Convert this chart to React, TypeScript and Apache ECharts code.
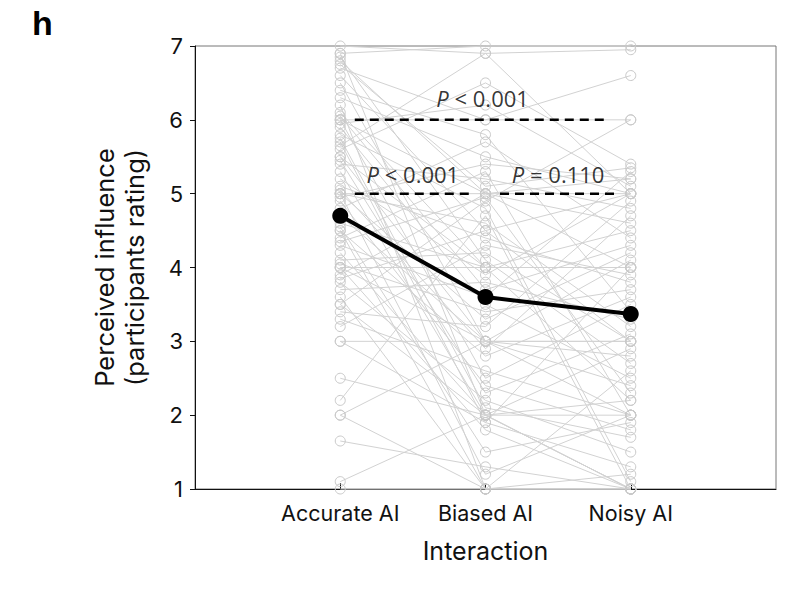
import React, { useEffect, useRef } from "react";
import * as echarts from "echarts";

const categories = ["Accurate AI", "Biased AI", "Noisy AI"];
const accurate = [7.0, 6.9, 6.8, 6.9, 6.7, 6.6, 6.5, 6.3, 6.2, 6.1, 6.0, 6.0, 6.0, 5.9, 5.8, 5.7, 5.6, 5.5, 5.5, 5.4, 5.3, 5.2, 5.1, 5.0, 5.0, 5.0, 5.0, 4.9, 4.8, 4.7, 4.6, 4.5, 4.5, 4.4, 4.3, 4.2, 4.1, 4.0, 4.0, 4.0, 3.9, 3.8, 3.7, 3.6, 3.5, 3.5, 3.4, 3.3, 3.2, 3.0, 3.0, 2.5, 2.2, 2.0, 2.0, 1.65, 1.1, 1.0, 6.4, 5.95, 6.85, 5.05, 4.95, 4.55, 6.05, 5.45, 4.35, 6.75, 5.75, 4.05, 3.85, 5.65];
const biased = [6.9, 7.0, 5.0, 2.0, 6.0, 4.5, 3.0, 5.5, 1.0, 4.0, 6.0, 5.0, 2.5, 3.5, 4.8, 1.9, 6.5, 3.0, 4.0, 5.2, 2.0, 3.9, 4.4, 5.0, 1.2, 3.3, 4.6, 2.4, 5.7, 3.0, 4.0, 1.0, 2.8, 5.3, 3.6, 2.0, 4.2, 4.0, 1.8, 3.0, 5.0, 2.2, 3.8, 1.0, 4.9, 2.0, 3.2, 2.6, 4.3, 3.0, 1.9, 2.0, 4.7, 1.0, 3.0, 1.3, 2.0, 1.0, 5.8, 6.2, 4.1, 2.9, 5.4, 1.5, 3.7, 2.3, 4.95, 5.1, 2.1, 3.4, 4.5, 6.9];
const noisy = [5.0, 7.0, 4.0, 1.0, 6.0, 3.0, 2.0, 5.0, 1.0, 4.5, 6.6, 5.2, 3.5, 2.5, 1.1, 4.0, 5.4, 3.0, 2.2, 4.8, 1.0, 5.0, 3.8, 5.0, 2.0, 4.2, 3.2, 1.8, 4.4, 2.8, 4.0, 1.2, 3.6, 2.0, 5.3, 2.9, 3.0, 4.0, 1.0, 2.4, 4.6, 1.5, 3.3, 2.6, 6.0, 1.0, 4.9, 2.0, 3.9, 3.0, 1.3, 2.2, 1.0, 1.0, 4.1, 1.0, 2.0, 1.0, 3.4, 5.1, 2.7, 4.7, 5.2, 1.9, 4.3, 3.1, 2.3, 5.35, 1.7, 3.7, 5.0, 6.95];
const means = [4.7, 3.6, 3.37];
const yTicks = [1, 2, 3, 4, 5, 6, 7];

const sigLines = [
  { from: 1.1, to: 2.84, y: 6, label: "< 0.001", lx: 1.98, ly: 6.3 },
  { from: 1.1, to: 1.89, y: 5, label: "< 0.001", lx: 1.5, ly: 5.27 },
  { from: 2.1, to: 2.9, y: 5, label: "= 0.110", lx: 2.5, ly: 5.27 },
];

export default function App() {
  const ref = useRef<HTMLDivElement>(null);
  useEffect(() => {
    if (!ref.current) return;
    const chart = echarts.init(ref.current, null, { renderer: "svg" });
    const font = "Inter, 'Liberation Sans', sans-serif";
    const series: any[] = [];
    for (let i = 0; i < accurate.length; i++) {
      series.push({
        type: "line",
        data: [[1, accurate[i]], [2, biased[i]], [3, noisy[i]]],
        symbol: "circle",
        symbolSize: 10,
        clip: false,
        silent: true,
        lineStyle: { color: "#d2d2d2", width: 1 },
        itemStyle: { color: "rgba(0,0,0,0)", borderColor: "#c9c9c9", borderWidth: 1 },
        z: 2,
      });
    }
    sigLines.forEach((s) => {
      series.push({
        type: "line",
        data: [[s.from, s.y], [s.to, s.y]],
        symbol: "none",
        lineStyle: { color: "#000", width: 2.5, type: [9, 6] },
        z: 5,
      });
      series.push({
        type: "scatter",
        data: [[s.lx, s.ly]],
        symbolSize: 0,
        z: 6,
        label: {
          show: true,
          position: "inside",
          formatter: "{i|P} " + s.label,
          fontFamily: "'Open Sans', sans-serif",
          fontSize: 22,
          color: "#000",
          rich: { i: { fontStyle: "italic", fontFamily: "'Open Sans', sans-serif", fontSize: 22, color: "#000" } },
        },
      });
    });
    series.push({
      type: "line",
      data: means.map((m, i) => [i + 1, m]),
      symbol: "circle",
      symbolSize: 16,
      clip: false,
      lineStyle: { color: "#000", width: 4 },
      itemStyle: { color: "#000" },
      z: 10,
    });
    chart.setOption({
      animation: false,
      grid: { left: 195, top: 46, right: 30, bottom: 100, show: true, borderColor: "#777", borderWidth: 1 },
      xAxis: {
        type: "value",
        min: 0,
        max: 4,
        interval: 1,
        splitLine: { show: false },
        axisLine: { lineStyle: { color: "#111", width: 1 } },
        axisTick: { customValues: [1, 2, 3], inside: true, length: 6, lineStyle: { color: "#111" } },
        axisLabel: {
          customValues: [1, 2, 3],
          formatter: (v: number) => categories[v - 1] || "",
          fontFamily: font,
          fontSize: 21.5,
          color: "#111",
          margin: 13,
        },
        name: "Interaction",
        nameLocation: "middle",
        nameGap: 49,
        nameTextStyle: { fontFamily: font, fontSize: 25, color: "#111" },
      },
      yAxis: {
        type: "value",
        min: 1,
        max: 7,
        interval: 1,
        splitLine: { show: false },
        axisLine: { show: true, lineStyle: { color: "#111", width: 1 } },
        axisTick: { show: true, length: 5, lineStyle: { color: "#111" } },
        axisLabel: {
          formatter: (v: number) => (yTicks.includes(v) ? String(v) : ""),
          fontFamily: font,
          fontSize: 22,
          color: "#111",
          margin: 12,
        },
        name: "Perceived influence\n(participants rating)",
        nameLocation: "middle",
        nameGap: 46,
        nameTextStyle: { fontFamily: font, fontSize: 25.5, color: "#111", lineHeight: 30 },
      },
      graphic: [
        {
          type: "text",
          left: 32,
          top: 6,
          style: { text: "h", fontFamily: "'Liberation Sans', Arial, sans-serif", fontWeight: "bold", fontSize: 34, fill: "#000" },
        },
      ],
      series,
    });
    return () => chart.dispose();
  }, []);
  return <div ref={ref} style={{ width: 806, height: 589, position: "absolute", left: 0, top: 0 }} />;
}
